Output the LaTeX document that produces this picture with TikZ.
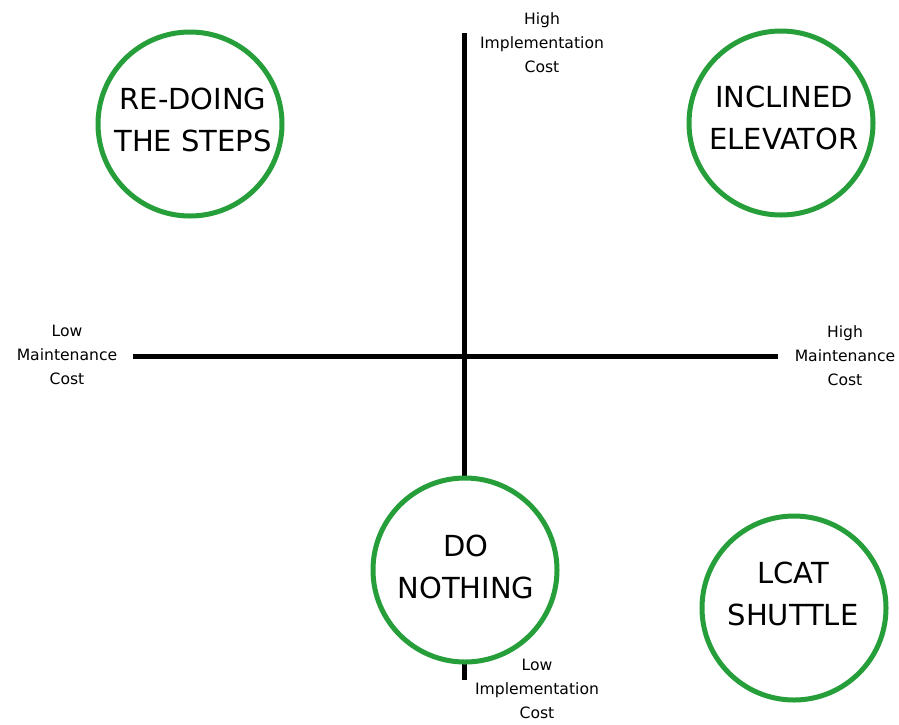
\documentclass[tikz,border=0pt]{standalone}
\usepackage{fontspec}
\setmainfont{DejaVu Sans}
\usepackage{tikz}
\usetikzlibrary{positioning}
\definecolor{optgreen}{RGB}{38,158,58}
\tikzset{
  axisln/.style={line width=5pt, black},
  option/.style={circle, draw=optgreen, line width=5pt, fill=white,
                 minimum size=184pt, inner sep=0pt},
  optlab/.style={align=center, font=\fontsize{29}{42}\selectfont},
  axlab/.style={align=center, font=\fontsize{15.6}{24}\selectfont},
}

\begin{document}
\begin{tikzpicture}[x=1pt, y=-1pt]
  \useasboundingbox[fill=white] (0,0) rectangle (899,724);
  % axes
  \coordinate (xlo) at (133,356);
  \coordinate (xhi) at (778,356);
  \coordinate (ylo) at (464,680);
  \coordinate (yhi) at (464,33);
  \draw[axisln] (xlo) -- (xhi);
  \draw[axisln] (ylo) -- (yhi);
  % axis ends
  \node[axlab] (costhi) at (542,43) {High\\Implementation\\Cost};
  \node[axlab] (costlo) at (537,689) {Low\\Implementation\\Cost};
  \node[axlab] (mainlo) at (67,355) {Low\\Maintenance\\Cost};
  \node[axlab] (mainhi) at (845,356) {High\\Maintenance\\Cost};
  % the four options
  \node[option] (steps) at (190,124) {};
  \node[option] (elev) at (781,123) {};
  \node[option] (none) at (465,570) {};
  \node[option] (lcat) at (794,608) {};
  \node[optlab] at (193,120) {RE-DOING\\THE STEPS};
  \node[optlab] at (784,118) {INCLINED\\ELEVATOR};
  \node[optlab] at (466,567) {DO\\NOTHING};
  \node[optlab] at (793,594) {LCAT\\SHUTTLE};
\end{tikzpicture}
\end{document}
